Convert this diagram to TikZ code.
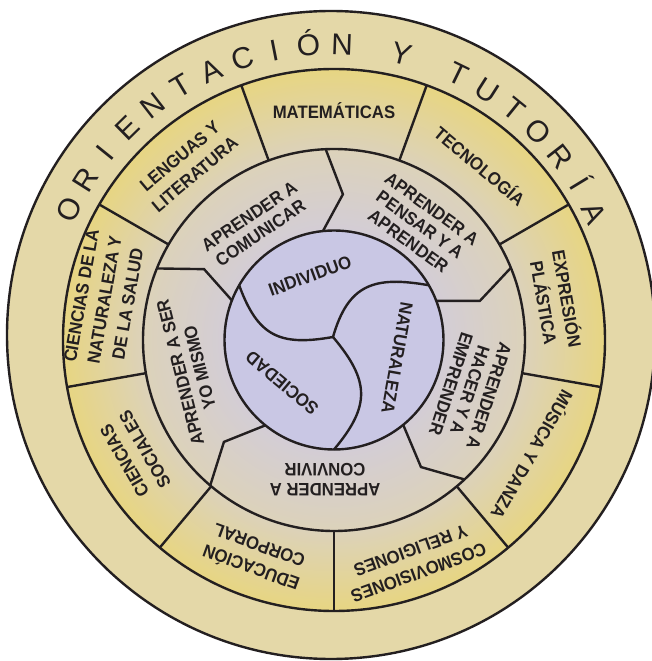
\documentclass[tikz,border=0pt]{standalone}
\usepackage{fontspec}
\setmainfont{Liberation Sans}
\newfontfamily\lblfont{Liberation Sans}[FakeStretch=0.93]
\definecolor{inkc}{HTML}{231F20}
\definecolor{ringc}{HTML}{E4D8A8}
\definecolor{yelc}{HTML}{E7D582}
\definecolor{begc}{HTML}{DCD2BA}
\definecolor{grac}{HTML}{D3CDD6}
\definecolor{lavc}{HTML}{C9C7E4}
\pgfdeclareradialshading{discshade}{\pgfpoint{0bp}{0bp}}{color(0bp)=(lavc); color(10bp)=(grac); color(17.6bp)=(begc); color(25bp)=(yelc); color(50bp)=(yelc)}
\begin{document}
\begin{tikzpicture}[x=1pt,y=1pt,
  lines/.style={draw=inkc,line width=2.4pt},
  subj/.style={font=\lblfont\bfseries\fontsize{18}{23.5}\selectfont, text=inkc, align=center, inner sep=0pt},
  apr/.style={font=\lblfont\bfseries\fontsize{18}{20}\selectfont, text=inkc, align=center, inner sep=0pt},
  ctr/.style={font=\lblfont\bfseries\fontsize{18}{20}\selectfont, text=inkc, inner sep=0pt},
  orl/.style={font=\fontsize{30}{30}\selectfont, text=inkc, inner sep=0pt, anchor=base}]
\useasboundingbox (-334,-321) rectangle (318,340);
% backgrounds
\fill[ringc] (-3,5) circle (324);
\shade[shading=discshade] (0,0) circle (271);
\fill[lavc] (0,0) circle (109.5);
% subject dividers
\foreach \a in {110,70,30,-10,-50,-90,-130,-170,150}
  \draw[lines] (\a:191) -- (\a:271);
% aprender dividers
\draw[lines,line join=miter] (92.5:191) -- (86.5:146) -- (95.8:109.5);
\draw[lines,line join=miter] (158:191) -- (151.4:148) -- (158.8:109.5);
\draw[lines,line join=miter] (229.6:191) -- (222.8:150) -- (231.2:109.5);
\draw[lines,line join=miter] (313.1:191) -- (304.4:154) -- (309.2:109.5);
\draw[lines,line join=miter] (22.2:191) -- (15:151) -- (20.9:109.5);
% center curves
\coordinate (J) at (-1,3);
\coordinate (E1) at (150:109.5);
\coordinate (E2) at (30:109.5);
\coordinate (E3) at (-90:109.5);
\draw[lines] (J) to[out=190,in=290,looseness=1.3] (E1);
\draw[lines] (J) to[out=74,in=170,looseness=1.3] (E2);
\draw[lines] (J) to[out=-50,in=50,looseness=1.3] (E3);
% circles
\draw[lines] (-3,5) circle (324);
\draw[lines] (0,0) circle (271);
\draw[lines] (0,0) circle (191);
\draw[lines] (0,0) circle (109.5);
% outer ring letters
\foreach \ch/\ang [count=\i] in {O/154.4,R/147.74,I/141.08,E/134.42,N/127.76,T/121.1,A/114.44,C/107.78,I/101.12,Ó/94.46,N/87.8,Y/75.9,T/64.05,U/57.5,T/50.95,O/44.4,R/37.85,Í/31.3,A/24.8}
  \path (-3,5) ++(\ang:280) node[orl,rotate=\ang-90] (ol\i) {\ch};
% subjects
\node[subj,rotate=0]    (mat) at (90:229)  {MATEMÁTICAS};
\node[subj,rotate=-40]  (tec) at (50:228)  {TECNOLOGÍA};
\node[subj,rotate=-80]  (exp) at (10:226)  {EXPRESIÓN\\PLÁSTICA};
\node[subj,rotate=-120] (mus) at (-30:230) {MÚSICA Y DANZA};
\node[subj,rotate=-160] (cos) at (-70:236) {COSMOVISIONES\\Y RELIGIONES};
\node[subj,rotate=-200] (edu) at (-110:232) {EDUCACIÓN\\CORPORAL};
\node[subj,rotate=-240] (soc) at (-150:230) {CIENCIAS\\SOCIALES};
\node[subj,rotate=80]   (nat) at (170:233) {CIENCIAS DE LA\\NATURALEZA Y\\DE LA SALUD};
\node[subj,rotate=40]   (len) at (130:228) {LENGUAS Y\\LITERATURA};
% aprender ring
\node[apr,rotate=34]   (acom) at (-79,115) {APRENDER A\\COMUNICAR};
\node[apr,rotate=-36]  (apen) at (86,115)  {APRENDER A\\PENSAR Y A\\APRENDER};
\node[apr,rotate=-108] (ahac) at (136,-50) {APRENDER A\\HACER Y A\\EMPRENDER};
\node[apr,rotate=180]  (acon) at (-9,-140) {APRENDER A\\CONVIVIR};
\node[apr,rotate=104]  (aser) at (-144,-30) {APRENDER A SER\\YO MISMO};
% center
\node[ctr,rotate=20]   (ind) at (-24,64)  {INDIVIDUO};
\node[ctr,rotate=-100] (natu) at (63,-18) {NATURALEZA};
\node[ctr,rotate=140]  (soci) at (-52,-43) {SOCIEDAD};
\end{tikzpicture}
\end{document}
